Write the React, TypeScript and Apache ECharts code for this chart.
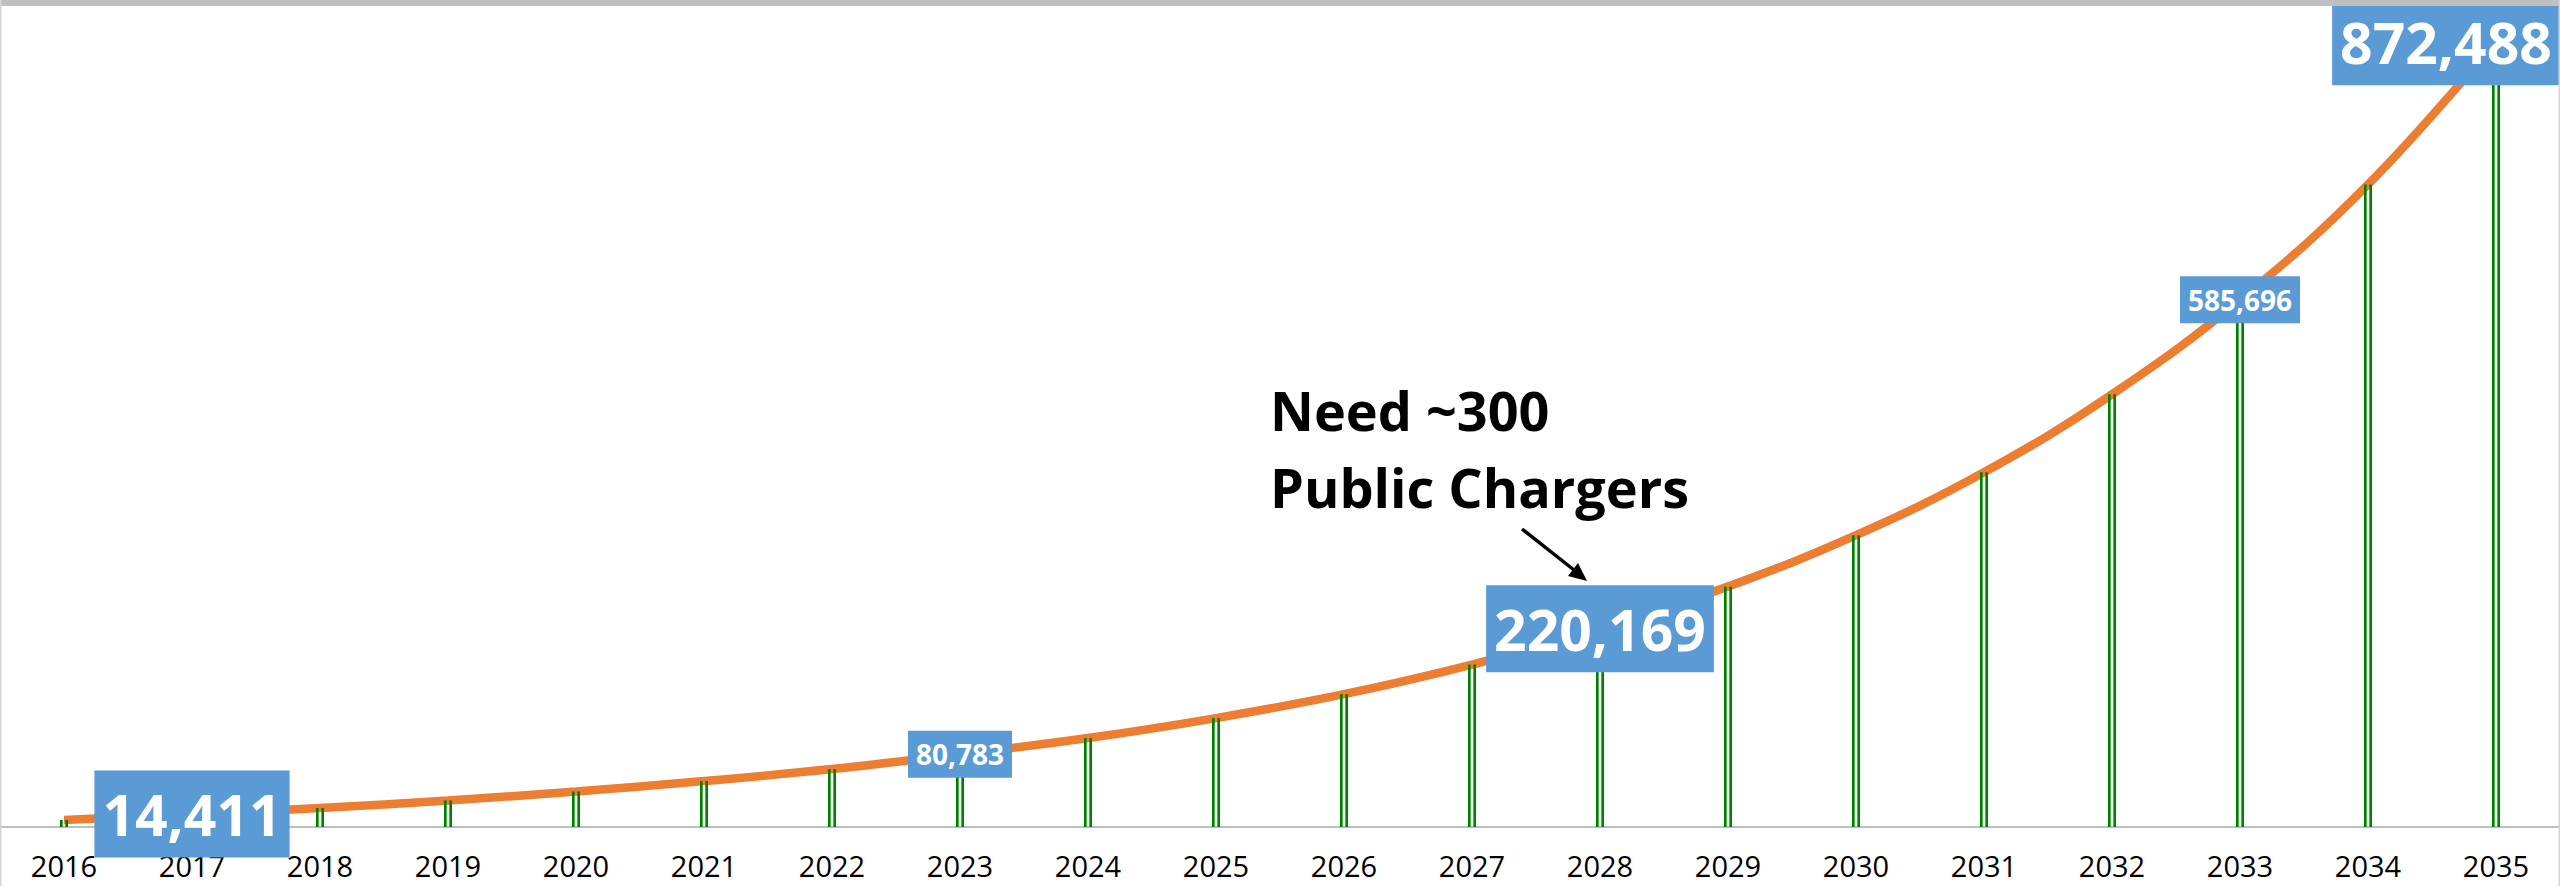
import React, { useEffect, useRef } from 'react';
import * as echarts from 'echarts';

const years = ['2016', '2017', '2018', '2019', '2020', '2021', '2022', '2023', '2024', '2025', '2026', '2027', '2028', '2029', '2030', '2031', '2032', '2033', '2034', '2035'];
const chargers = [7800, 14411, 21100, 29500, 39500, 51000, 64400, 80783, 98800, 121000, 147600, 180500, 220169, 267100, 324200, 394100, 480700, 585696, 713800, 872488];
const bigLabelYears = ['2017', '2028', '2035'];
const smallLabelYears = ['2023', '2033'];
const annotationText = 'Need ~300\nPublic Chargers';

const BLUE = '#5b9bd5';
const ORANGE = '#ed7d31';
const GREEN = '#008000';
const STRIPE = 2.67;

function labelFor(year: string, i: number) {
  const fmt = (v: number) => v.toLocaleString('en-US');
  const base = {
    show: true,
    position: ['50%', 0],
    align: 'center',
    verticalAlign: 'middle',
    color: '#fff',
    fontWeight: 'bold',
    fontFamily: 'Open Sans',
    backgroundColor: BLUE,
    formatter: () => fmt(chargers[i]),
  };
  if (bigLabelYears.includes(year)) {
    const isLast = i === years.length - 1;
    return { ...base, fontSize: 57, lineHeight: 77, padding: [5, 8], offset: [STRIPE + (isLast ? -50 : 0), 0] };
  }
  if (smallLabelYears.includes(year)) {
    return { ...base, fontSize: 28, lineHeight: 35, padding: [6, 8], offset: [STRIPE, 0] };
  }
  return { show: false };
}

export default function App() {
  const ref = useRef<HTMLDivElement>(null);
  useEffect(() => {
    const chart = echarts.init(ref.current!, null, { renderer: 'svg' });
    const option: any = {
      animation: false,
      backgroundColor: '#fff',
      grid: { left: 0, right: 0, top: 17, bottom: 59, containLabel: false },
      xAxis: {
        type: 'category',
        data: years,
        boundaryGap: true,
        axisLine: { show: true, lineStyle: { color: '#bfbfbf', width: 2 } },
        axisTick: { show: false },
        axisLabel: { interval: 0, fontFamily: 'Open Sans', fontSize: 29, color: '#000', margin: 24 },
        splitLine: { show: false },
      },
      yAxis: { type: 'value', min: 0, max: 900000, show: false, splitLine: { show: false } },
      series: [
        {
          type: 'line',
          data: chargers,
          smooth: 0.4,
          symbol: 'none',
          showSymbol: false,
          lineStyle: { color: ORANGE, width: 8.5 },
          z: 2,
          silent: true,
        },
        {
          type: 'bar',
          data: chargers.map((v, i) => ({ value: v, label: labelFor(years[i], i) })),
          barWidth: STRIPE,
          barGap: '100%',
          itemStyle: { color: GREEN },
          z: 3,
          silent: true,
        },
        {
          type: 'bar',
          data: chargers,
          barWidth: STRIPE,
          barGap: '100%',
          itemStyle: { color: GREEN },
          z: 3,
          silent: true,
        },
      ],
      graphic: [
        { type: 'rect', z: 100, shape: { x: 0, y: 0, width: 2560, height: 6 }, style: { fill: '#bfbfbf' } },
        { type: 'line', z: 100, shape: { x1: 0.75, y1: 0, x2: 0.75, y2: 886 }, style: { stroke: '#d4d4d4', lineWidth: 1.5 } },
        { type: 'line', z: 100, shape: { x1: 2559.25, y1: 0, x2: 2559.25, y2: 886 }, style: { stroke: '#d4d4d4', lineWidth: 1.5 } },
        {
          type: 'text', z: 50, x: 1270, y: 371,
          style: { text: annotationText, fill: '#000', fontSize: 54, fontWeight: 'bold', fontFamily: 'Open Sans', lineHeight: 77, align: 'left', verticalAlign: 'top' },
        },
        { type: 'line', z: 50, shape: { x1: 1522, y1: 529, x2: 1574, y2: 570 }, style: { stroke: '#000', lineWidth: 3.5 } },
        { type: 'polygon', z: 50, shape: { points: [[1587, 581], [1568, 576], [1578, 563]] }, style: { fill: '#000' } },
      ],
    };
    chart.setOption(option);
    return () => chart.dispose();
  }, []);
  return <div ref={ref} style={{ position: 'fixed', left: 0, top: 0, width: 2560, height: 886, background: '#fff' }} />;
}
